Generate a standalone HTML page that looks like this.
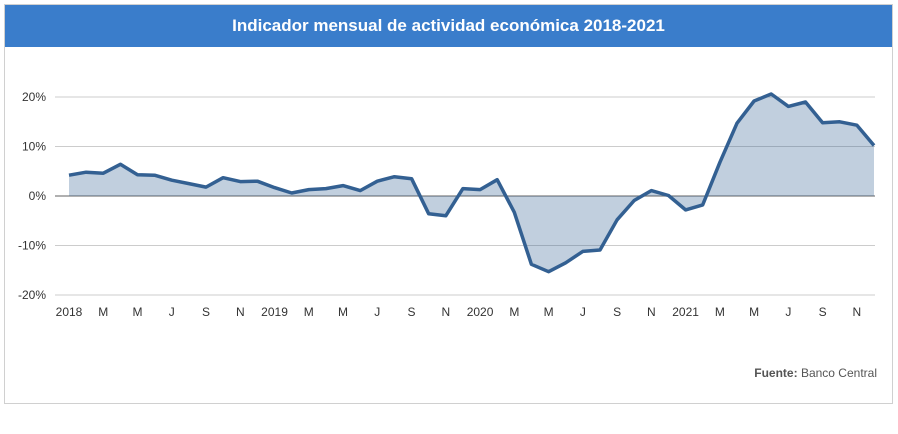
<!DOCTYPE html>
<html><head><meta charset="utf-8"><style>
body{margin:0;background:#fff;font-family:"Liberation Sans",Arial,sans-serif;}
#wrap{position:absolute;left:4px;top:4px;width:887px;height:398px;border:1px solid #d0d0d0;}
#title{position:absolute;left:0;top:0;width:887px;height:42px;background:#3a7dcb;color:#fff;font-weight:bold;font-size:17px;text-align:center;line-height:42px;}
svg{position:absolute;left:0;top:0;}
</style></head><body>
<div id="wrap">
<div id="title">Indicador mensual de actividad económica 2018-2021</div>
</div>
<svg id="chart" width="898" height="434"></svg>
<script>
const values=[4.2,4.8,4.6,6.4,4.3,4.2,3.2,2.5,1.8,3.7,2.9,3.0,
1.7,0.6,1.3,1.5,2.1,1.1,3.0,3.9,3.5,-3.6,-4.0,1.5,
1.3,3.3,-3.3,-13.8,-15.3,-13.5,-11.2,-10.9,-4.8,-0.9,1.1,0.1,
-2.8,-1.8,6.8,14.7,19.2,20.6,18.1,19.0,14.8,15.0,14.3,10.2];
const yTicks=[20,10,0,-10,-20];
const xLabels=["2018","M","M","J","S","N","2019","M","M","J","S","N","2020","M","M","J","S","N","2021","M","M","J","S","N"];
const NS="http://www.w3.org/2000/svg";
const svg=document.getElementById('chart');
const x=i=>69+i*(874-69)/47;
const y=v=>196-v*4.95;
function mk(t,a){const e=document.createElementNS(NS,t);for(const k in a)e.setAttribute(k,a[k]);svg.appendChild(e);return e;}
yTicks.forEach(t=>{
 const l=mk('line',{x1:55,x2:875,y1:y(t),y2:y(t),stroke:t===0?'#808080':'#cccccc','stroke-width':t===0?1.3:1});
 
 
 const tx=mk('text',{x:46,y:y(t)+4,'text-anchor':'end','font-size':12,fill:'#333','font-family':'Liberation Sans,sans-serif'});
 tx.textContent=t+'%';
 
 
});
xLabels.forEach((s,k)=>{
 const tx=mk('text',{x:x(k*2),y:316,'text-anchor':'middle','font-size':12,fill:'#333','font-family':'Liberation Sans,sans-serif'});
 tx.textContent=s;
 
 
});
let d=values.map((v,i)=>(i?'L':'M')+x(i).toFixed(1)+' '+y(v).toFixed(1)).join(' ');
const area=mk('path',{d:d+' L'+x(values.length-1)+' '+y(0)+' L'+x(0)+' '+y(0)+' Z',fill:'rgba(51,96,146,0.3)'});


const line=mk('path',{d:d,fill:'none',stroke:'#336092','stroke-width':3.5,'stroke-linejoin':'round'});


const src=mk('text',{x:877,y:377,'text-anchor':'end','font-size':12,fill:'#555','font-family':'Liberation Sans,sans-serif'});
src.innerHTML='<tspan font-weight="bold">Fuente:</tspan> Banco Central';


</script>
</body></html>
